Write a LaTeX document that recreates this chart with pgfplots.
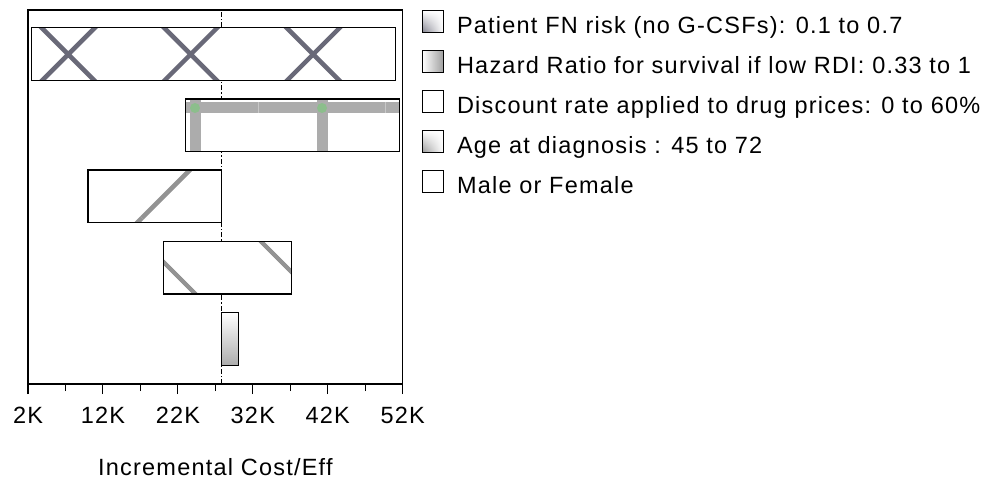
\documentclass[border=0pt]{standalone}
\usepackage{fontspec}
\setmainfont{Liberation Sans}[LetterSpace=5.2]
\usepackage{pgfplots}
\pgfplotsset{compat=1.18}
\usetikzlibrary{patterns.meta,shadings}
\definecolor{xgray}{RGB}{105,105,120}
\definecolor{ggray}{RGB}{172,172,172}
\definecolor{dgreen}{RGB}{140,190,140}
\begin{document}
\begin{tikzpicture}
\begin{axis}[
  at={(28pt,-384pt)}, anchor=south west,
  scale only axis, width=374.7pt, height=374pt,
  xmin=2000, xmax=52000, ymin=0.369, ymax=5.616,
  scaled x ticks=false,
  axis line style={line width=1.1pt},
  xtick={2000,12000,22000,32000,42000,52000},
  xticklabels={2K,12K,22K,32K,42K,52K},
  minor xtick={7000,17000,27000,37000,47000},
  ytick=\empty,
  xtick pos=bottom, tick align=outside,
  major tick length=10pt, minor tick length=7pt,
  every tick/.style={black, line width=1.1pt},
  /pgf/number format/assume math mode=true,
  tick label style={font=\fontsize{23.5}{27}\selectfont},
  xticklabel style={yshift=-10pt},
  xlabel={Incremental Cost/Eff},
  xlabel style={font=\fontsize{23.5}{27}\selectfont, yshift=-27pt},
  legend style={at={(1,1)}, anchor=north west, xshift=16pt, yshift=2pt, draw=none,
    font=\fontsize{23.5}{26}\selectfont, row sep=10.5pt,
    nodes={inner sep=1pt, anchor=west, text height=17pt, text depth=5pt}},
  legend cell align=left,
]
\addplot[black, line width=1pt, dash pattern=on 5pt off 2pt on 1.5pt off 2pt, forget plot]
  coordinates {(27800,0.369) (27800,5.616)};
% Bar 1: Patient FN risk
\addplot[draw=black, line width=1.4pt, fill=white,
  postaction={pattern={Hatch[angle=45, distance=86.6pt, line width=4.5pt, xshift=7pt]}, pattern color=xgray},
  legend image code/.code={
    \path[draw=black, line width=0.9pt, upper left=white, upper right=white, lower left=xgray!85, lower right=white] (0pt,-5pt) rectangle (21pt,17pt);
    \path (33pt,0pt);}]
  coordinates {(2500,4.631) (51000,4.631) (51000,5.369) (2500,5.369)} -- cycle;
\addlegendentry{Patient FN risk (no G-CSFs): 0.1 to 0.7}
% Bar 2: Hazard ratio
\addplot[draw=black, line width=1.4pt, fill=white,
  postaction={pattern={Hatch[angle=0, distance=127pt, line width=11pt, xshift=-59pt, yshift=-6pt]}, pattern color=ggray},
  postaction={pattern={Dots[distance=127pt, radius=5pt, xshift=-59pt, yshift=-6pt]}, pattern color=dgreen},
  legend image code/.code={
    \path[draw=black, line width=0.9pt, left color=white, right color=gray!75] (0pt,-5pt) rectangle (21pt,17pt);
    \path (33pt,0pt);}]
  coordinates {(23000,3.631) (51600,3.631) (51600,4.369) (23000,4.369)} -- cycle;
\addlegendentry{Hazard Ratio for survival if low RDI: 0.33 to 1}
% Bar 3: Discount rate
\addplot[draw=black, line width=1.4pt, fill=white,
  postaction={pattern={Lines[angle=45, distance=150pt, line width=4.5pt, xshift=89pt]}, pattern color=gray!85},
  legend image code/.code={
    \path[draw=black, line width=0.9pt, fill=white] (0pt,-5pt) rectangle (21pt,17pt);
    \path (33pt,0pt);}]
  coordinates {(10000,2.631) (27800,2.631) (27800,3.369) (10000,3.369)} -- cycle;
\addlegendentry{Discount rate applied to drug prices: 0 to 60\%}
% Bar 4: Age at diagnosis
\addplot[draw=black, line width=1.4pt, fill=white,
  postaction={pattern={Lines[angle=-45, distance=83.4pt, line width=4.5pt, xshift=31pt]}, pattern color=gray!85},
  legend image code/.code={
    \path[draw=black, line width=0.9pt, upper left=white, upper right=white, lower left=gray!80, lower right=white] (0pt,-5pt) rectangle (21pt,17pt);
    \path (33pt,0pt);}]
  coordinates {(20100,1.631) (37200,1.631) (37200,2.369) (20100,2.369)} -- cycle;
\addlegendentry{Age at diagnosis : 45 to 72}
% Bar 5: Male or Female (shading, then outline)
\addplot[draw=none, top color=white, middle color=white, bottom color=gray!65, forget plot]
  coordinates {(27800,0.631) (30100,0.631) (30100,1.369) (27800,1.369)} -- cycle;
\addplot[draw=black, line width=1.4pt, fill=none,
  legend image code/.code={
    \path[draw=black, line width=0.9pt, fill=white] (0pt,-5pt) rectangle (21pt,17pt);
    \path (33pt,0pt);}]
  coordinates {(27800,0.631) (30100,0.631) (30100,1.369) (27800,1.369)} -- cycle;
\addlegendentry{Male or Female}
\end{axis}
\pgfresetboundingbox
\path[use as bounding box] (0,0) rectangle (994pt,-483pt);
\end{tikzpicture}
\end{document}
